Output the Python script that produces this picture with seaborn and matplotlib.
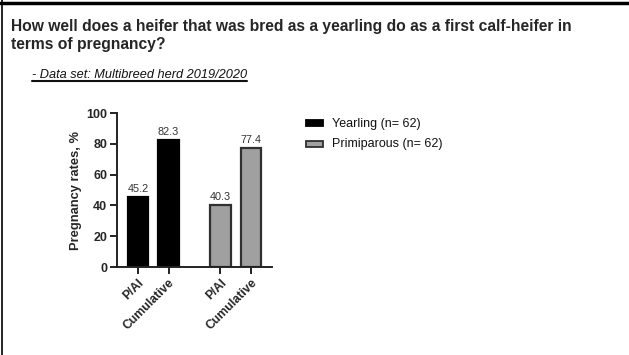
import matplotlib
matplotlib.use("Agg")
import matplotlib.pyplot as plt
import seaborn as sns
import pandas as pd
from matplotlib.patches import Rectangle
from matplotlib.lines import Line2D

# Pregnancy rates by group and measure
groups = ["Yearling", "Yearling", "Primiparous", "Primiparous"]
measures = ["P/AI", "Cumulative", "P/AI", "Cumulative"]
rates = [45.2, 82.3, 40.3, 77.4]
positions = [0.0, 1.0, 2.7, 3.7]
legend_labels = ["Yearling (n= 62)", "Primiparous (n= 62)"]
y_ticks = [0, 20, 40, 60, 80, 100]

sns.set_theme(style="ticks")
plt.rcParams["font.family"] = ["Liberation Sans", "DejaVu Sans"]

W, H = 629, 355


def fx(px):
    return px / W


def fy(py):
    return 1 - py / H


df = pd.DataFrame({"group": groups, "measure": measures,
                   "rate": rates, "pos": positions})

fig = plt.figure(figsize=(6.29, 3.55), dpi=100)
ax = fig.add_axes([fx(117), fy(267), fx(272) - fx(117), fy(113) - fy(267)])

palette = {"Yearling": "#000000", "Primiparous": "#a0a0a0"}
edges = {"Yearling": "#000000", "Primiparous": "#303030"}
sns.barplot(data=df, x="pos", y="rate", hue="group", palette=palette,
            native_scale=True, dodge=False, width=0.67, ax=ax,
            legend=False, saturation=1)

for patch, g in zip(ax.patches, groups):
    patch.set_edgecolor(edges[g])
    patch.set_linewidth(1.6)

for x, v in zip(positions, rates):
    ax.text(x, v + 2.0, f"{v:.1f}", ha="center", va="bottom",
            fontsize=7.8, color="#333333")

ax.set_xlim(-0.69, 4.39)
ax.set_ylim(0, 100)
ax.set_yticks(y_ticks)
ax.set_yticklabels([str(t) for t in y_ticks], fontsize=9, fontweight="bold")
ax.set_xticks(positions)
ax.set_xticklabels(measures, rotation=45, ha="right", va="top",
                   rotation_mode="anchor", fontsize=8.8, fontweight="bold")
ax.set_xlabel("")
ax.set_ylabel("Pregnancy rates, %", fontsize=9.3, fontweight="bold", labelpad=3)
ax.tick_params(axis="both", length=5, width=1.4, color="#222222", pad=2)
sns.despine(ax=ax)
for s in ("left", "bottom"):
    ax.spines[s].set_linewidth(1.4)
    ax.spines[s].set_color("#222222")

# Legend entries
for i, (label, g) in enumerate(zip(legend_labels, ["Yearling", "Primiparous"])):
    cy = 123 + 20.5 * i
    fig.add_artist(Rectangle((fx(306), fy(cy + 3)), 17 / W, 6 / H,
                             transform=fig.transFigure,
                             facecolor=palette[g], edgecolor=edges[g], lw=1.3))
    fig.text(fx(332), fy(cy + 0.5), label, fontsize=9, va="center", ha="left",
             color="#111111")

# Heading and subheading
fig.text(fx(11), fy(31),
         "How well does a heifer that was bred as a yearling do as a first calf-heifer in",
         fontsize=11.25, fontweight="bold", va="baseline", ha="left")
fig.text(fx(11), fy(49), "terms of pregnancy?",
         fontsize=11.25, fontweight="bold", va="baseline", ha="left")
sub = fig.text(fx(32), fy(77.5), "- Data set: Multibreed herd 2019/2020",
               fontsize=9.15, style="italic", va="baseline", ha="left",
               color="#111111")
fig.canvas.draw()
bb = sub.get_window_extent().transformed(fig.transFigure.inverted())
fig.add_artist(Line2D([bb.x0, bb.x1], [fy(80.5), fy(80.5)],
                      transform=fig.transFigure, color="#111111", lw=1.5))

# Slide frame: heavy top rule and thin left edge
fig.add_artist(Line2D([0, 1], [fy(2.5), fy(2.5)],
                      transform=fig.transFigure, color="#000000", lw=2.5))
fig.add_artist(Line2D([fx(1.5), fx(1.5)], [0, 1],
                      transform=fig.transFigure, color="#000000", lw=1.2))

fig.savefig("out.png", dpi=100)
